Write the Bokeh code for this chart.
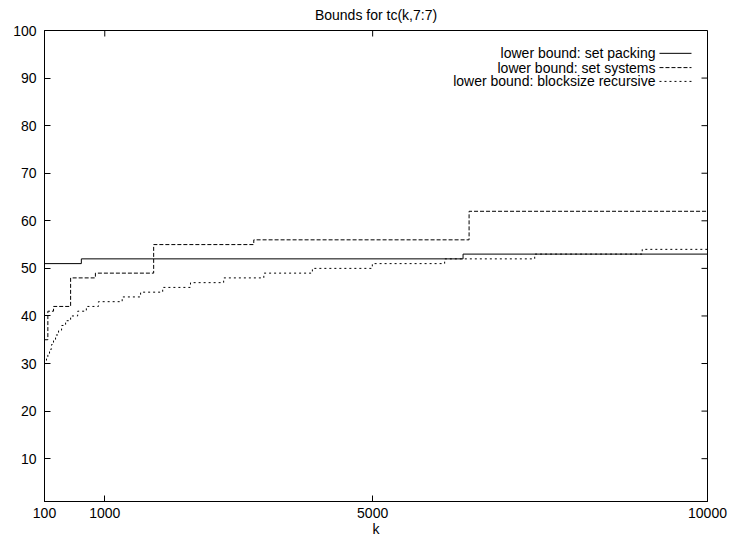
from bokeh.plotting import figure
from bokeh.models import Range1d, FixedTicker, Label, Arrow
from bokeh.embed import file_html
from bokeh.resources import INLINE

# ---- data ----
k_pack = [100, 650, 6350, 10000]
v_pack = [51, 52, 53, 53]

k_sys = [100, 150, 235, 490, 860, 1730, 3225, 6440, 10000]
v_sys = [35, 41, 42, 48, 49, 55, 56, 62, 62]

k_rec = [100, 130, 150, 175, 205, 235, 265, 310, 355, 415, 490, 595, 725, 905,
         1260, 1535, 1865, 2280, 2775, 3375, 4100, 4995, 6075, 7420, 9025, 10000]
v_rec = [30, 31, 32, 33, 34, 35, 36, 37, 38, 39, 40, 41, 42, 43,
         44, 45, 46, 47, 48, 49, 50, 51, 52, 53, 54, 54]

x_ticks = [100, 1000, 5000, 10000]
x_tick_labels = ["100", "1000", "5000", "10000"]
y_ticks = [10, 20, 30, 40, 50, 60, 70, 80, 90, 100]

series_names = ["lower bound: set packing", "lower bound: set systems",
                "lower bound: blocksize recursive"]
series_dash = ["solid", "4 2", "2 3"]

X_LO, X_HI = 100, 10000
Y_LO, Y_HI = 1, 100

FONT = "Liberation Sans"
FS = "14px"

FRAME_W, FRAME_H = 663, 471
p = figure(width=731, height=540, output_backend="svg", toolbar_location=None,
           x_range=Range1d(X_LO, X_HI), y_range=Range1d(Y_LO, Y_HI),
           min_border_left=44, min_border_right=24, min_border_top=30,
           min_border_bottom=39, background_fill_color="white",
           border_fill_color="white")

p.title.text = "Bounds for tc(k,7:7)"
p.title.align = "center"
p.title.vertical_align = "top"
p.title.text_font = FONT
p.title.text_font_size = FS
p.title.text_font_style = "normal"
p.title.text_color = "black"
p.title.standoff = 12

p.grid.visible = False
p.outline_line_color = "black"
p.outline_line_width = 1

def style_axis(ax, ticks, standoff):
    ax.ticker = FixedTicker(ticks=ticks)
    ax.major_tick_in = 6
    ax.major_tick_out = 0
    ax.minor_tick_in = 0
    ax.minor_tick_out = 0
    ax.axis_line_color = "black"
    ax.major_tick_line_color = "black"
    ax.major_label_text_font = FONT
    ax.major_label_text_color = "black"
    ax.major_label_text_font_size = FS
    ax.major_label_standoff = standoff

style_axis(p.xaxis[0], x_ticks, 6)
p.xaxis[0].major_label_overrides = {t: s for t, s in zip(x_ticks, x_tick_labels)}
p.xaxis[0].axis_label = "k"
p.xaxis[0].axis_label_text_font = FONT
p.xaxis[0].axis_label_text_font_size = FS
p.xaxis[0].axis_label_text_font_style = "normal"
p.xaxis[0].axis_label_text_color = "black"
p.xaxis[0].axis_label_standoff = 0
style_axis(p.yaxis[0], y_ticks, 8)

# mirrored (gnuplot-style) inward ticks on the right and top borders, 6 px long
tick_dx = 6 * (X_HI - X_LO) / FRAME_W
tick_dy = 6 * (Y_HI - Y_LO) / FRAME_H
p.segment(x0=[X_HI] * len(y_ticks), y0=y_ticks,
          x1=[X_HI - tick_dx] * len(y_ticks), y1=y_ticks,
          line_color="black", line_width=1)
p.segment(x0=x_ticks, y0=[Y_HI] * len(x_ticks),
          x1=x_ticks, y1=[Y_HI - tick_dy] * len(x_ticks),
          line_color="black", line_width=1)

series = [(k_pack, v_pack), (k_sys, v_sys), (k_rec, v_rec)]
for (kx, vy), dash in zip(series, series_dash):
    p.step(kx, vy, mode="after", line_color="black", line_width=1, line_dash=dash)

# legend (gnuplot style: label right-aligned, sample to its right)
leg_text_x = 9223
leg_line_x0, leg_line_x1 = 9283, 9761
leg_rows = [95.2, 92.2, 89.3]
for name, dash, yy in zip(series_names, series_dash, leg_rows):
    p.add_layout(Label(x=leg_text_x, y=yy, text=name, text_align="right",
                       text_baseline="middle", text_font=FONT, text_font_size=FS,
                       text_color="black"))
    p.add_layout(Arrow(end=None, x_start=leg_line_x0, y_start=yy, x_end=leg_line_x1,
                       y_end=yy, line_color="black", line_width=1, line_dash=dash))

open("out.html", "w").write(file_html(p, INLINE))
